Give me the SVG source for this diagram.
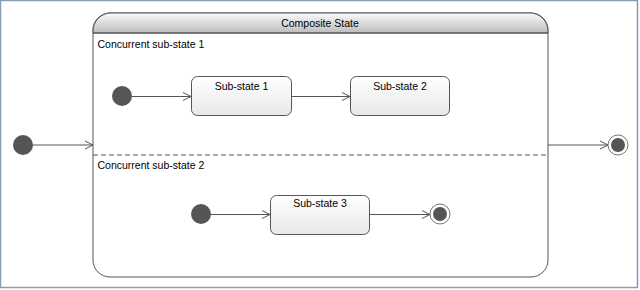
<svg xmlns="http://www.w3.org/2000/svg" width="640" height="290" viewBox="0 0 640 290">
<defs>
<linearGradient id="hdr" x1="0" y1="0" x2="0" y2="1">
<stop offset="0" stop-color="#fafafa"/>
<stop offset="1" stop-color="#bdbdbd"/>
</linearGradient>
<linearGradient id="box" x1="0" y1="0" x2="0" y2="1">
<stop offset="0" stop-color="#ffffff"/>
<stop offset="1" stop-color="#e8e8e8"/>
</linearGradient>
<marker id="arr" markerWidth="10" markerHeight="10" refX="9" refY="5" orient="auto" markerUnits="userSpaceOnUse">
<path d="M1,1 L9,5 L1,9" fill="none" stroke="#555" stroke-width="1"/>
</marker>
</defs>
<style>
text{font-family:"Liberation Sans",Arial,sans-serif;font-size:10.5px;fill:#000}
.st{fill:url(#box);stroke:#555;stroke-width:1}
.init{fill:#555}
.fin{fill:#fff;stroke:#777;stroke-width:1}
.edge{fill:none;stroke:#555;stroke-width:1}
</style>
<rect x="0.5" y="0.5" width="637" height="287" fill="#fff" stroke="#8a9bb5" stroke-width="1.5"/>
<g id="composite">
<rect x="93" y="13" width="455" height="264" rx="17" ry="17" fill="#fff" stroke="#555" stroke-width="1"/>
<path d="M93,33 V31 A18,18 0 0 1 111,13 H530 A18,18 0 0 1 548,31 V33 Z" fill="url(#hdr)" stroke="#555" stroke-width="1"/>
<line x1="93" y1="33" x2="548" y2="33" stroke="#555" stroke-width="1"/>
<text x="320" y="27" text-anchor="middle">Composite State</text>
<line x1="93" y1="155" x2="548" y2="155" stroke="#555" stroke-width="1" stroke-dasharray="5,3"/>
<text x="97.5" y="47.5">Concurrent sub-state 1</text>
<text x="97.5" y="168.5">Concurrent sub-state 2</text>
</g>
<g id="init0"><circle cx="23" cy="145" r="10" class="init"/></g>
<g id="init1"><circle cx="122" cy="96" r="10" class="init"/></g>
<g id="init2"><circle cx="201" cy="214" r="10" class="init"/></g>
<g id="sub1"><rect x="191.5" y="76.5" width="100" height="39" rx="6" class="st"/><text x="241.5" y="89.5" text-anchor="middle">Sub-state 1</text></g>
<g id="sub2"><rect x="350.5" y="76.5" width="99" height="39" rx="6" class="st"/><text x="400" y="89.5" text-anchor="middle">Sub-state 2</text></g>
<g id="sub3"><rect x="270.5" y="195.5" width="99" height="39" rx="6" class="st"/><text x="320" y="207" text-anchor="middle">Sub-state 3</text></g>
<g id="final2"><circle cx="440" cy="214" r="10" class="fin"/><circle cx="440" cy="214" r="7" class="init"/></g>
<g id="final0"><circle cx="618" cy="145" r="10" class="fin"/><circle cx="618" cy="145" r="7" class="init"/></g>
<g id="connectors">
<line x1="33" y1="145" x2="93" y2="145" class="edge" marker-end="url(#arr)"/>
<line x1="132" y1="96.5" x2="191" y2="96.5" class="edge" marker-end="url(#arr)"/>
<line x1="292" y1="96.5" x2="350" y2="96.5" class="edge" marker-end="url(#arr)"/>
<line x1="211" y1="214.5" x2="270" y2="214.5" class="edge" marker-end="url(#arr)"/>
<line x1="370" y1="214.5" x2="430" y2="214.5" class="edge" marker-end="url(#arr)"/>
<line x1="548" y1="145" x2="608" y2="145" class="edge" marker-end="url(#arr)"/>
</g>
</svg>
